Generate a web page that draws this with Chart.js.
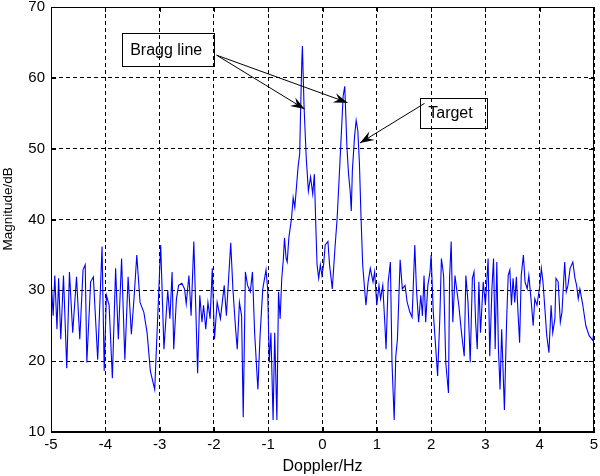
<!DOCTYPE html>
<html>
<head>
<meta charset="utf-8">
<script src="https://cdn.jsdelivr.net/npm/chart.js@4.4.0/dist/chart.umd.min.js"></script>
<style>
  html, body { margin: 0; padding: 0; background: #fff; }
  #wrap { width: 600px; height: 476px; }
</style>
</head>
<body>
<div id="wrap"><canvas id="spec" width="600" height="476"></canvas></div>
<script>
// Doppler spectrum (Hz, dB)
const freqHz = [
  -5.00,-4.96,-4.93,-4.89,-4.86,-4.82,-4.77,-4.71,-4.66,-4.60,-4.53,-4.47,-4.41,-4.37,-4.34,-4.27,-4.22,-4.14,-4.06,-4.02,
  -3.98,-3.93,-3.87,-3.81,-3.76,-3.70,-3.64,-3.58,-3.52,-3.47,-3.42,-3.36,-3.29,-3.23,-3.17,-3.09,-2.98,-2.92,-2.85,-2.81,
  -2.77,-2.74,-2.69,-2.65,-2.59,-2.54,-2.51,-2.46,-2.42,-2.37,-2.33,-2.30,-2.26,-2.22,-2.19,-2.15,-2.11,-2.07,-2.03,
  -1.99,-1.94,-1.88,-1.81,-1.77,-1.69,-1.65,-1.60,-1.57,-1.53,-1.49,-1.46,-1.42,-1.38,-1.33,-1.29,-1.25,-1.19,-1.15,-1.10,-1.04,-1.01,
  -0.98,-0.95,-0.91,-0.88,-0.84,-0.81,-0.78,-0.75,-0.72,-0.70,-0.67,-0.65,-0.62,-0.57,-0.54,-0.51,-0.49,-0.45,-0.42,-0.40,
  -0.38,-0.37,-0.34,-0.30,-0.26,-0.22,-0.18,-0.15,-0.12,-0.10,-0.07,-0.04,-0.01,
  0.02,0.05,0.10,0.13,0.18,0.23,0.27,0.32,0.35,0.38,0.41,0.43,0.45,0.48,0.51,0.53,0.55,0.59,0.62,0.65,
  0.68,0.71,0.74,0.77,0.80,0.84,0.88,0.93,0.96,
  1.00,1.04,1.07,1.11,1.15,1.17,1.21,1.25,1.28,1.32,1.35,1.38,1.43,1.47,1.52,1.56,1.61,1.65,1.67,1.70,
  1.73,1.77,1.81,1.84,1.87,1.90,1.94,1.98,
  2.00,2.04,2.07,2.12,2.16,2.19,2.23,2.27,2.32,2.34,2.37,2.40,2.44,2.47,2.51,2.56,2.61,2.64,2.68,2.72,
  2.76,2.79,2.82,2.85,2.88,2.91,2.96,
  3.00,3.05,3.08,3.12,3.15,3.18,3.21,3.24,3.27,3.30,3.35,3.39,3.42,3.45,3.48,3.51,3.54,3.57,3.60,3.63,
  3.66,3.70,3.73,3.77,3.80,3.84,3.88,3.91,3.95,
  4.00,4.03,4.06,4.10,4.13,4.17,4.21,4.24,4.28,4.30,4.34,4.38,4.41,4.46,4.49,4.52,4.56,4.61,4.65,4.68,
  4.71,4.74,4.79,4.85,4.91,4.98,5.00
];
const magnitudeDb = [
  31.9,26.4,32.1,24.5,31.7,23.1,32.1,19.0,32.6,24.0,31.9,23.1,32.9,33.6,19.8,31.2,31.9,20.2,36.2,18.6,
  29.3,27.9,17.6,33.1,23.1,34.5,20.2,31.9,23.8,29.0,35.0,28.3,26.9,24.0,18.6,16.0,36.4,21.7,30.0,26.0,
  32.6,21.7,28.8,30.7,31.0,30.2,28.1,32.1,26.4,36.9,26.4,18.3,29.3,25.5,27.9,24.5,28.3,26.0,33.1,
  23.1,28.3,26.0,30.7,26.4,36.7,30.2,24.5,21.7,28.3,26.4,12.1,32.6,30.7,29.8,32.6,24.0,16.0,23.6,30.2,32.9,30.2,
  19.8,24.0,11.7,24.0,11.7,29.8,26.0,31.7,34.5,37.4,34.5,34.0,37.4,40.2,43.1,41.7,43.6,47.4,49.3,56.4,
  62.6,64.5,56.0,48.8,44.0,46.0,43.6,46.4,38.3,33.6,31.7,33.6,32.1,
  33.6,36.4,36.9,33.6,30.2,36.0,40.2,47.9,52.6,57.4,58.8,54.5,50.2,46.4,44.0,41.2,46.9,51.7,54.0,52.6,
  47.9,40.2,33.6,30.7,27.9,31.2,33.1,31.2,32.6,
  27.9,30.7,28.8,30.7,25.0,21.7,31.2,34.0,19.8,11.7,20.7,23.1,34.3,30.2,30.7,28.3,26.9,26.2,30.2,36.4,
  30.2,25.5,29.3,26.4,32.1,25.5,30.7,32.6,
  35.0,26.9,23.6,17.9,26.0,34.5,32.1,19.8,15.5,31.7,36.9,25.5,32.1,30.2,27.9,24.0,20.7,32.1,28.3,19.8,
  31.7,32.6,25.5,21.7,31.2,24.0,31.2,
  27.9,34.5,20.7,30.2,34.5,21.7,34.0,21.7,16.0,24.5,13.1,25.5,32.1,32.9,27.9,31.7,28.3,31.9,26.9,22.6,
  32.1,35.0,31.2,30.2,32.1,28.8,25.0,28.8,27.9,
  30.5,33.1,31.2,26.9,23.6,21.2,27.9,24.0,26.0,31.7,31.2,25.5,26.9,34.0,29.8,30.7,33.1,34.0,31.7,30.7,
  28.8,30.2,28.1,25.0,23.6,22.9,24.5
];

const xTicks = [-5, -4, -3, -2, -1, 0, 1, 2, 3, 4, 5];
const yTicks = [10, 20, 30, 40, 50, 60, 70];
const yTitle = 'Magnitude/dB';

// annotation boxes and arrows, in data units
const braggBox = { text: 'Bragg line', x0: -3.69, x1: -2.0, y0: 66.3, y1: 61.6 };
const braggArrows = [
  { from: [-1.95, 63.2], to: [-0.33, 55.6] },
  { from: [-1.95, 63.2], to: [0.46, 56.5] }
];
const targetBox = { text: 'Target', x0: 1.80, x1: 3.03, y0: 57.2, y1: 53.0 };
const targetArrow = { from: [1.88, 56.4], to: [0.69, 50.8] };

const points = freqHz.slice(0, magnitudeDb.length).map((f, i) => ({ x: f, y: magnitudeDb[i] }));

const FONT = 'Arial, "Liberation Sans", sans-serif';

function arrowHead(ctx, x1, y1, x2, y2) {
    const ang = Math.atan2(y2 - y1, x2 - x1);
    const len = 14, half = 5, notch = 9;
    ctx.save();
    ctx.translate(x2, y2);
    ctx.rotate(ang);
    ctx.beginPath();
    ctx.moveTo(0, 0);
    ctx.lineTo(-len, -half);
    ctx.lineTo(-notch, 0);
    ctx.lineTo(-len, half);
    ctx.closePath();
    ctx.fill();
    ctx.restore();
}

const matlabDecor = {
    id: 'matlabDecor',
    afterDatasetsDraw(chart) {
        const { ctx, chartArea: a, scales: { x, y } } = chart;
        ctx.save();
        ctx.strokeStyle = '#000';
        ctx.fillStyle = '#000';
        ctx.lineWidth = 1;

        // inward tick marks on all four sides
        ctx.beginPath();
        xTicks.forEach(v => {
            const px = Math.round(x.getPixelForValue(v)) + 0.5;
            ctx.moveTo(px, a.bottom); ctx.lineTo(px, a.bottom - 5);
            ctx.moveTo(px, a.top); ctx.lineTo(px, a.top + 5);
        });
        yTicks.forEach(v => {
            const py = Math.round(y.getPixelForValue(v)) + 0.5;
            ctx.moveTo(a.left, py); ctx.lineTo(a.left + 5, py);
            ctx.moveTo(a.right, py); ctx.lineTo(a.right - 5, py);
        });
        ctx.stroke();

        // box round the axes
        ctx.strokeRect(Math.round(a.left) + 0.5, Math.round(a.top) + 0.5,
            Math.round(a.right - a.left) - 1, Math.round(a.bottom - a.top) - 1);

        // text boxes
        ctx.font = '16px ' + FONT;
        ctx.textBaseline = 'middle';
        [braggBox, targetBox].forEach(b => {
            const l = x.getPixelForValue(b.x0), r = x.getPixelForValue(b.x1);
            const t = y.getPixelForValue(b.y0), btm = y.getPixelForValue(b.y1);
            ctx.strokeRect(Math.round(l) + 0.5, Math.round(t) + 0.5, Math.round(r - l), Math.round(btm - t));
            ctx.fillText(b.text, l + 8, (t + btm) / 2 + 1);
        });

        // arrows
        braggArrows.concat([targetArrow]).forEach(ar => {
            const x1 = x.getPixelForValue(ar.from[0]), y1 = y.getPixelForValue(ar.from[1]);
            const x2 = x.getPixelForValue(ar.to[0]), y2 = y.getPixelForValue(ar.to[1]);
            ctx.beginPath();
            ctx.moveTo(x1, y1);
            ctx.lineTo(x2, y2);
            ctx.stroke();
            arrowHead(ctx, x1, y1, x2, y2);
        });

        // y axis title, sat a little above the axis middle as in the figure
        ctx.font = '13.5px ' + FONT;
        ctx.textAlign = 'center';
        ctx.translate(8, y.getPixelForValue(41.5));
        ctx.rotate(-Math.PI / 2);
        ctx.fillText(yTitle, 0, 0);
        ctx.restore();
    }
};

new Chart(document.getElementById('spec'), {
    type: 'line',
    data: {
        datasets: [{
            data: points,
            borderColor: '#0000ff',
            borderWidth: 1.1,
            pointRadius: 0,
            tension: 0,
            fill: false
        }]
    },
    options: {
        responsive: false,
        animation: false,
        events: [],
        layout: { padding: { top: 0, right: 6, left: 0, bottom: 0 } },
        plugins: { legend: { display: false }, tooltip: { enabled: false } },
        scales: {
            x: {
                type: 'linear',
                min: -5, max: 5,
                afterBuildTicks: s => { s.ticks = xTicks.map(v => ({ value: v })); },
                afterFit: s => { s.height = 44; s.paddingLeft = 0; s.paddingRight = 0; },
                grid: { color: '#000', lineWidth: 1, drawTicks: false },
                border: { display: true, color: '#000', dash: [4, 3] },
                ticks: { color: '#000', font: { family: FONT, size: 15 }, padding: 4, maxRotation: 0 },
                title: { display: true, text: 'Doppler/Hz', color: '#000', font: { family: FONT, size: 16 }, padding: { top: 0, bottom: 0 } }
            },
            y: {
                min: 10, max: 70,
                afterBuildTicks: s => { s.ticks = yTicks.map(v => ({ value: v })); },
                afterFit: s => { s.width = 51; s.paddingTop = 7; s.paddingBottom = 0; },
                grid: { color: '#000', lineWidth: 1, drawTicks: false },
                border: { display: true, color: '#000', dash: [4, 3] },
                ticks: { color: '#000', font: { family: FONT, size: 15 }, padding: 6 }
            }
        }
    },
    plugins: [matlabDecor]
});
</script>
</body>
</html>
